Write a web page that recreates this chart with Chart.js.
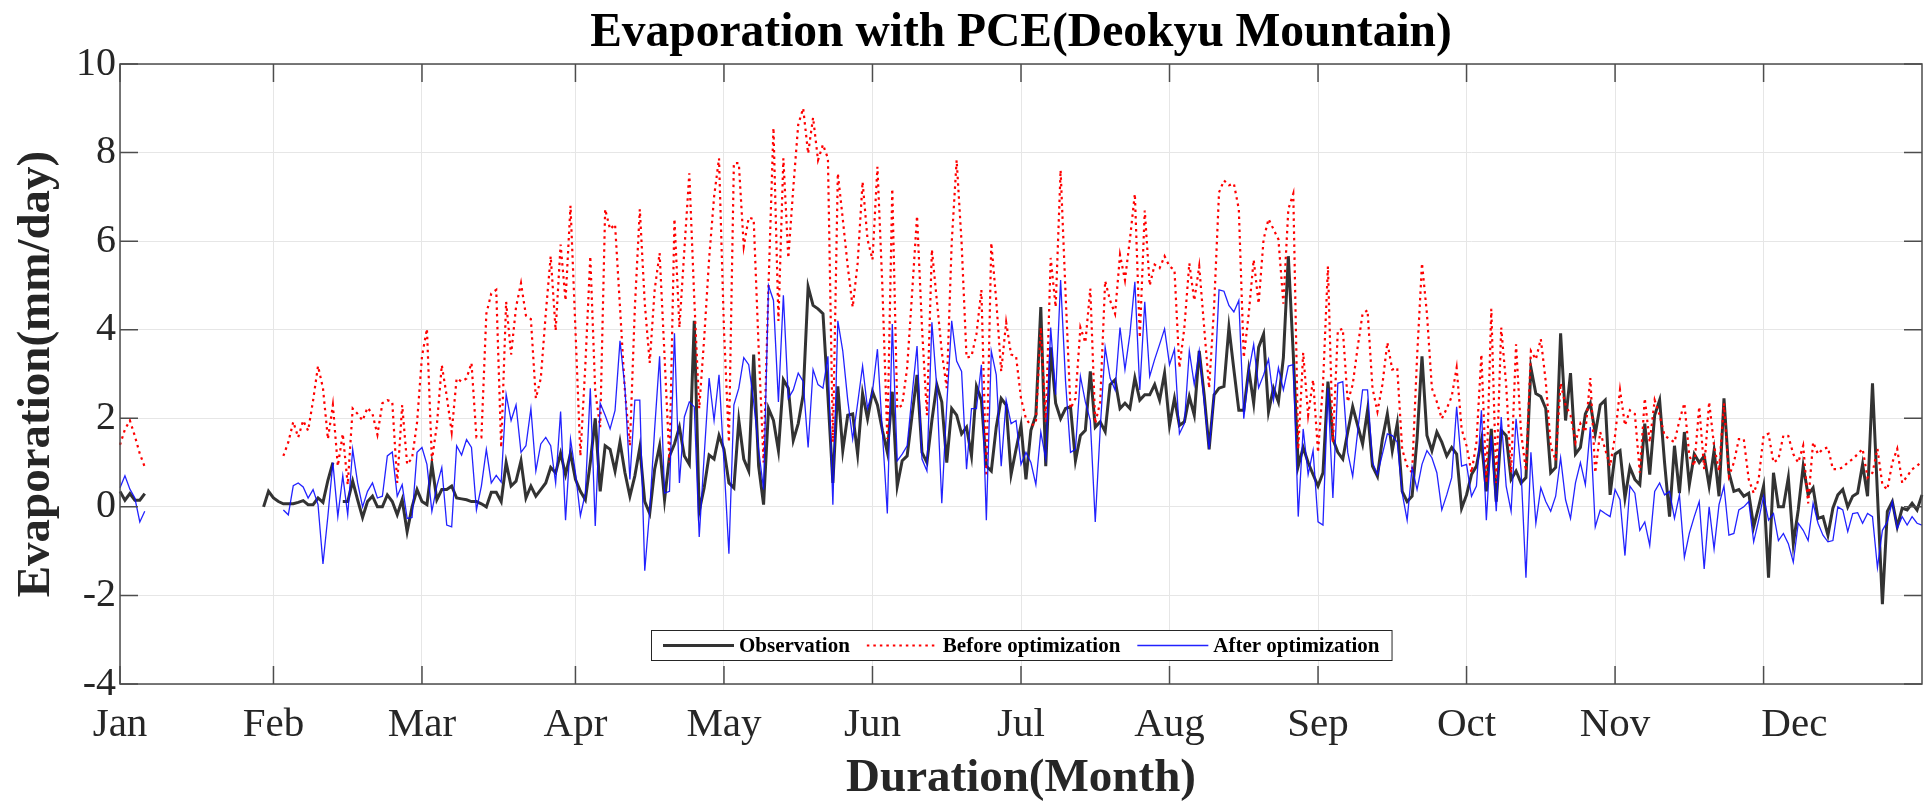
<!DOCTYPE html>
<html>
<head>
<meta charset="utf-8">
<script src="https://cdn.jsdelivr.net/npm/chart.js@4.4.0/dist/chart.umd.min.js"></script>
<style>
html, body { margin: 0; padding: 0; background: #fff; }
</style>
</head>
<body>
<canvas id="myChart" width="1928" height="803"></canvas>
<script>
// month ticks (day index of each tick) and their names
const monthStart = [0, 31, 61, 92, 122, 152, 182, 212, 242, 272, 302, 332]
const monthNames = ['Jan','Feb','Mar','Apr','May','Jun','Jul','Aug','Sep','Oct','Nov','      Dec']
const titleText = 'Evaporation with PCE(Deokyu Mountain)'

// daily values, day 0 .. 364 (null = no data)
const observation = [
  0.35,0.15,0.3,0.15,0.15,0.3,
  null,null,null,null,null,null,null,null,null,null,null,null,null,null,null,null,null,null,null,null,null,null,null,
  0.0,0.35,0.2,0.12,0.07,0.07,0.07,0.1,0.14,0.05,0.05,
  0.2,0.1,0.6,1.0,null,0.12,0.12,0.58,0.16,-0.24,
  0.12,0.24,0.0,0.0,0.27,0.12,-0.18,0.16,-0.56,0.0,
  0.39,0.12,0.05,0.96,0.16,0.39,0.39,0.47,0.2,0.18,
  0.16,0.12,0.12,0.07,0.0,0.33,0.33,0.12,1.0,0.47,
  0.58,1.04,0.2,0.47,0.24,0.39,0.54,0.89,0.77,1.21,
  0.73,1.21,0.62,0.35,0.16,1.0,2.0,0.35,1.38,1.3,
  0.81,1.46,0.77,0.24,0.7,1.34,0.12,-0.15,0.85,1.38,
  0.16,1.15,1.42,1.8,1.15,0.96,4.2,-0.1,0.43,1.17,
  1.08,1.61,1.3,0.54,0.43,1.95,1.08,0.81,3.44,0.92,
  0.05,2.22,1.95,1.27,2.87,2.68,1.5,1.88,2.53,4.97,
  4.55,4.47,4.36,2.5,0.54,2.72,1.27,2.07,2.1,1.19,
  2.56,1.99,2.6,2.3,1.73,1.23,2.6,0.47,1.04,1.15,
  2.07,2.98,1.23,1.0,1.95,2.76,2.37,1.0,2.22,2.07,
  1.65,1.8,1.15,2.72,2.41,0.92,0.81,1.8,2.45,2.3,
  0.73,1.3,1.84,0.62,1.73,2.07,4.51,0.92,3.6,2.34,
  1.99,2.22,2.26,1.04,1.61,1.73,3.06,1.8,1.92,1.7,
  2.76,2.87,2.22,2.34,2.22,2.91,2.41,2.53,2.53,2.76,
  2.41,3.02,1.84,2.45,1.84,1.92,2.49,2.07,3.52,2.53,
  1.3,2.53,2.68,2.72,4.05,3.1,2.18,2.18,3.1,2.34,
  3.6,3.9,2.15,2.68,2.37,3.37,5.66,3.44,0.92,1.34,
  1.0,0.73,0.47,0.77,2.83,1.53,1.23,1.08,1.69,2.26,
  1.84,1.42,2.18,0.92,0.69,1.53,2.1,1.27,1.88,0.35,
  0.12,0.24,1.53,3.4,1.61,1.27,1.69,1.46,1.15,1.34,
  1.19,-0.03,0.27,0.73,0.92,1.5,0.35,1.76,0.12,1.73,
  1.61,0.62,0.81,0.54,0.66,3.14,2.56,2.49,2.22,0.77,
  0.89,3.92,1.95,3.02,1.19,1.34,2.1,2.34,1.65,2.3,
  2.41,0.27,1.19,1.27,0.2,0.89,0.62,0.5,1.88,0.73,
  2.07,2.41,1.0,-0.22,1.38,0.31,1.69,0.5,1.19,1.0,
  1.15,0.47,1.27,0.24,2.45,0.77,0.35,0.39,0.24,0.31,
  -0.45,0.0,0.47,-1.6,0.77,0.0,0.0,0.66,-0.83,-0.07,
  0.92,0.27,0.43,-0.26,-0.22,-0.64,-0.03,0.27,0.39,0.0,
  0.24,0.31,0.96,0.24,2.79,0.3,-2.2,-0.1,0.12,-0.45,
  -0.03,-0.07,0.08,-0.07,0.27
]
const beforeOpt = [
  1.4,1.75,1.95,1.6,1.2,0.9,
  null,null,null,null,null,null,null,null,null,null,null,null,null,null,null,null,null,null,null,null,null,null,null,null,null,null,null,
  1.15,1.46,1.92,1.57,1.95,1.72,2.4,
  3.18,2.68,1.53,2.3,0.92,1.65,0.5,2.22,2.1,1.95,
  2.24,2.1,1.63,2.34,2.41,2.37,0.54,2.3,0.96,1.1,
  1.9,3.4,4.02,1.04,1.84,3.2,2.5,1.69,2.9,2.83,
  2.9,3.25,1.57,1.57,4.36,4.82,4.9,1.34,4.63,3.44,
  4.51,5.05,4.32,4.24,2.45,2.9,4.36,5.66,3.98,5.92,
  4.66,6.8,4.0,1.15,3.2,5.66,2.6,1.8,6.72,6.27,
  6.38,4.5,2.6,1.38,4.5,6.72,4.6,3.25,4.9,5.73,
  3.4,1.0,6.5,4.05,5.8,7.53,4.7,2.22,3.8,5.6,
  7.0,7.87,4.0,1.46,7.76,7.76,5.88,6.53,6.5,3.6,
  1.0,5.0,8.56,4.2,7.87,5.62,7.2,8.63,9.0,7.98,
  8.79,7.83,8.18,7.87,1.46,7.53,6.5,5.43,4.51,5.5,
  7.34,6.04,5.58,7.68,4.97,1.53,7.18,2.22,2.3,3.14,
  4.82,6.57,4.05,2.07,5.81,4.66,3.5,2.68,5.96,7.83,
  5.96,3.37,3.4,3.9,4.9,0.69,5.96,4.66,3.06,4.17,
  3.44,3.4,2.45,1.99,1.84,1.88,4.05,1.92,5.62,4.51,
  7.6,4.82,2.22,2.45,4.05,3.71,4.93,1.88,2.37,5.1,
  4.66,4.36,5.69,5.12,6.04,7.07,3.82,6.69,5.0,5.47,
  5.39,5.66,5.43,5.35,3.14,4.05,5.5,4.66,5.43,4.05,
  2.68,4.51,7.1,7.37,7.26,7.3,6.72,3.37,4.36,5.58,
  4.59,6.04,6.5,6.27,6.04,4.59,6.72,7.07,1.3,3.48,
  2.07,2.87,1.23,2.76,5.43,1.46,3.98,4.02,2.37,2.76,
  3.6,4.36,4.44,2.68,2.15,2.76,3.71,3.1,3.14,1.3,
  0.92,0.77,3.37,5.5,4.36,2.68,2.37,1.99,2.22,2.49,
  3.14,1.76,1.38,0.77,1.46,3.44,0.54,4.47,0.54,4.05,
  2.76,0.77,3.67,1.69,0.81,3.52,3.33,3.79,2.83,1.38,
  1.04,2.79,2.3,2.07,1.46,1.88,1.69,2.91,0.77,1.69,
  1.3,0.92,1.61,2.64,1.84,2.18,2.1,0.77,2.45,1.46,
  2.41,2.07,1.61,1.53,1.46,1.95,2.34,1.15,0.92,2.26,
  0.85,2.37,1.38,0.81,2.34,0.69,1.0,1.53,1.53,0.62,
  0.31,0.62,1.61,1.65,1.0,1.08,1.61,1.6,1.19,1.0,
  1.38,0.08,1.46,1.19,1.31,1.34,0.85,0.85,0.89,1.0,
  1.08,1.19,1.31,0.66,0.77,1.31,0.5,0.39,1.0,1.31,
  0.54,0.69,0.85,0.92,1.04
]
const afterOpt = [
  0.43,0.7,0.4,0.2,-0.34,-0.1,
  null,null,null,null,null,null,null,null,null,null,null,null,null,null,null,null,null,null,null,null,null,null,null,null,null,null,null,
  -0.07,-0.18,0.48,0.54,0.45,0.2,0.39,
  0.05,-1.29,-0.2,1.0,-0.22,0.7,-0.18,1.3,0.54,0.0,
  0.35,0.54,0.2,0.24,1.15,1.24,0.24,0.5,-0.26,-0.24,
  1.23,1.34,0.96,-0.1,0.47,0.89,-0.41,-0.45,1.38,1.17,
  1.52,1.34,-0.07,0.47,1.3,0.54,0.71,0.56,2.54,1.95,
  2.3,1.23,1.38,2.22,0.81,1.42,1.57,1.38,0.54,2.15,
  -0.3,1.53,0.77,-0.2,0.31,2.68,-0.43,2.34,2.07,1.76,
  2.18,3.75,2.68,0.62,2.41,2.41,-1.44,-0.07,1.76,3.4,
  0.31,0.35,3.92,0.54,2.03,2.37,2.26,-0.68,1.15,2.91,
  1.95,2.98,1.0,-1.06,2.3,2.68,3.37,3.21,2.37,1.3,
  0.39,5.0,4.66,2.37,4.78,2.45,2.64,3.02,2.83,1.34,
  3.1,2.76,2.68,3.4,0.05,4.2,3.52,2.41,1.53,2.34,
  3.18,2.22,2.6,3.56,1.69,-0.15,4.13,1.04,1.19,1.38,
  2.53,3.63,1.08,0.81,4.17,2.68,0.08,2.3,4.2,3.29,
  3.06,0.85,2.22,2.22,3.21,-0.3,3.52,2.98,0.92,2.41,
  1.88,1.95,0.96,1.23,1.0,0.5,1.69,1.08,4.05,2.53,
  5.12,2.83,1.23,1.3,2.95,2.37,1.95,-0.34,1.76,3.6,
  2.91,2.64,4.05,3.1,3.9,5.08,2.64,4.63,2.95,3.33,
  3.67,4.02,3.21,3.56,1.65,1.88,3.52,2.76,3.52,2.37,
  1.3,2.53,4.9,4.87,4.55,4.4,4.66,1.99,3.06,3.67,
  2.69,2.98,3.33,2.41,3.14,2.64,3.18,3.21,-0.22,1.76,
  0.73,1.27,-0.34,-0.41,2.68,0.2,2.79,2.83,1.23,0.69,
  1.69,2.64,2.64,1.0,0.73,1.19,1.65,1.61,1.46,0.31,
  -0.3,0.89,0.39,0.96,1.27,1.11,0.77,-0.07,0.27,0.66,
  2.26,0.92,0.96,0.24,0.47,2.18,-0.3,1.61,-0.1,2.03,
  0.47,-0.1,1.99,0.85,-1.6,1.23,-0.37,0.43,0.12,-0.1,
  0.24,1.11,0.16,-0.26,0.54,1.0,0.5,1.8,-0.45,-0.07,
  -0.15,-0.22,0.39,0.16,-1.1,0.47,0.31,-0.53,-0.34,-0.87,
  0.35,0.54,0.27,0.35,-0.26,0.27,-1.14,-0.6,-0.22,0.12,
  -1.4,0.0,-0.95,0.05,0.47,-0.64,-0.6,-0.07,0.0,0.12,
  -0.79,-0.3,0.24,-0.3,-0.15,-0.76,-0.6,-0.83,-1.25,-0.37,
  -0.53,-0.76,0.08,-0.37,-0.64,-0.79,-0.76,0.0,-0.07,-0.56,
  -0.15,-0.13,-0.37,-0.15,-0.22,-1.37,-0.53,-0.34,0.12,-0.49,
  -0.22,-0.41,-0.22,-0.37,-0.41
]

const days = []
for (let d = 0; d < observation.length; d++) days.push(d)

const serif = '"Liberation Serif", "Times New Roman", serif'
const tickLen = 18

// title centred over the plot box, not the canvas
const plotTitle = {
  id: 'plotTitle',
  afterDraw(chart) {
    const {ctx, chartArea: a} = chart
    ctx.save()
    ctx.font = 'bold 47.5px ' + serif
    ctx.fillStyle = '#000'
    ctx.textAlign = 'center'
    ctx.textBaseline = 'middle'
    ctx.fillText(titleText, (a.left + a.right) / 2, 34)
    ctx.restore()
  }
}

// box round the plot + inward tick marks (matlab look)
const frame = {
  id: 'frame',
  afterDatasetsDraw(chart) {
    const {ctx, chartArea: a, scales: {x, y}} = chart
    ctx.save()
    ctx.strokeStyle = '#4d4d4d'
    ctx.lineWidth = 1.5
    ctx.strokeRect(a.left, a.top, a.right - a.left, a.bottom - a.top)
    ctx.beginPath()
    y.ticks.forEach(t => {
      const py = y.getPixelForValue(t.value)
      ctx.moveTo(a.left, py); ctx.lineTo(a.left + tickLen, py)
      ctx.moveTo(a.right, py); ctx.lineTo(a.right - tickLen, py)
    })
    x.ticks.forEach(t => {
      const px = x.getPixelForValue(t.value)
      ctx.moveTo(px, a.bottom); ctx.lineTo(px, a.bottom - tickLen)
      ctx.moveTo(px, a.top); ctx.lineTo(px, a.top + tickLen)
    })
    ctx.stroke()
    ctx.restore()
  }
}

// legend box inside the plot, lower middle
const boxLegend = {
  id: 'boxLegend',
  afterDraw(chart) {
    const {ctx, chartArea: a} = chart
    const ds = chart.data.datasets
    const pad = 12, lineLen = 71, textGap = 5, itemGap = 17, h = 30
    ctx.save()
    ctx.font = 'bold 21px ' + serif
    const widths = ds.map(d => ctx.measureText(d.label).width)
    let total = pad * 2 + (ds.length - 1) * itemGap
    widths.forEach(w => { total += w + lineLen + textGap })
    const x0 = Math.round((a.left + a.right) / 2 - total / 2)
    const y0 = Math.round(a.bottom - 54)
    ctx.fillStyle = '#fff'
    ctx.fillRect(x0, y0, total, h)
    ctx.strokeStyle = '#262626'
    ctx.lineWidth = 1
    ctx.strokeRect(x0 + 0.5, y0 + 0.5, total, h)
    let cx = x0 + pad
    const cy = y0 + h / 2 + 0.5
    ds.forEach((d, i) => {
      ctx.beginPath()
      ctx.setLineDash(d.borderDash || [])
      ctx.strokeStyle = d.borderColor
      ctx.lineWidth = d.borderWidth
      ctx.moveTo(cx, cy); ctx.lineTo(cx + lineLen, cy)
      ctx.stroke()
      ctx.setLineDash([])
      cx += lineLen + textGap
      ctx.fillStyle = '#000'
      ctx.textAlign = 'left'
      ctx.textBaseline = 'middle'
      ctx.fillText(d.label, cx, cy + 1)
      cx += widths[i] + itemGap
    })
    ctx.restore()
  }
}

var ctx = document.getElementById('myChart').getContext('2d')
var evapChart = new Chart(ctx, {
  type: 'line',
  data: {
    labels: days,
    datasets: [{
      label: 'Observation',
      data: observation,
      borderColor: '#333333',
      borderWidth: 3,
      pointRadius: 0,
      order: 3
    }, {
      label: 'Before optimization',
      data: beforeOpt,
      borderColor: '#ff0000',
      borderWidth: 2.2,
      borderDash: [2.5, 4],
      pointRadius: 0,
      order: 2
    }, {
      label: 'After optimization',
      data: afterOpt,
      borderColor: 'rgba(10,10,255,0.9)',
      borderWidth: 1.3,
      pointRadius: 0,
      order: 1
    }]
  },
  options: {
    responsive: false,
    animation: false,
    layout: { padding: { left: 0, right: 6, top: 64, bottom: 0 } },
    plugins: {
      legend: { display: false },
      tooltip: { enabled: false },
      title: { display: false }
    },
    scales: {
      x: {
        type: 'category',
        afterFit(scale) { scale.height = 119 },
        afterBuildTicks(scale) { scale.ticks = monthStart.map(v => ({ value: v })) },
        grid: { color: '#e6e6e6', lineWidth: 1, drawTicks: false },
        border: { display: false },
        ticks: {
          autoSkip: false,
          maxRotation: 0,
          padding: 16.5,
          color: '#262626',
          font: { family: serif, size: 41 },
          callback(value) {
            const k = monthStart.indexOf(value)
            return k >= 0 ? monthNames[k] : ''
          }
        },
        title: {
          display: true,
          text: 'Duration(Month)',
          color: '#262626',
          font: { family: serif, size: 47, weight: 'bold', lineHeight: 1 },
          padding: { top: 0, bottom: 1 }
        }
      },
      y: {
        min: -4,
        max: 10,
        afterFit(scale) { scale.width = 120 },
        grid: { color: '#e6e6e6', lineWidth: 1, drawTicks: false },
        border: { display: false },
        ticks: {
          stepSize: 2,
          padding: 4,
          color: '#262626',
          font: { family: serif, size: 40 }
        },
        title: {
          display: true,
          text: 'Evaporation(mm/day)',
          color: '#262626',
          font: { family: serif, size: 47, weight: 'bold', lineHeight: 1 },
          padding: { top: 13.5, bottom: 0 }
        }
      }
    }
  },
  plugins: [frame, boxLegend, plotTitle]
})
</script>
</body>
</html>
